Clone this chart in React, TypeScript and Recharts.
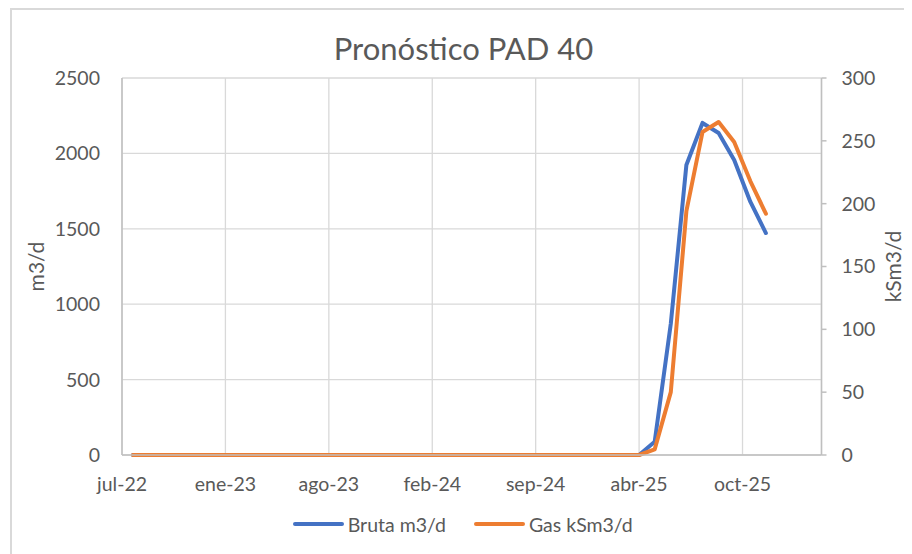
import React from 'react';
import { LineChart, Line, XAxis, YAxis, CartesianGrid, Legend } from 'recharts';

// monthly forecast, first day of each month
const months = [
  '2022-08', '2022-09', '2022-10', '2022-11', '2022-12',
  '2023-01', '2023-02', '2023-03', '2023-04', '2023-05', '2023-06',
  '2023-07', '2023-08', '2023-09', '2023-10', '2023-11', '2023-12',
  '2024-01', '2024-02', '2024-03', '2024-04', '2024-05', '2024-06',
  '2024-07', '2024-08', '2024-09', '2024-10', '2024-11', '2024-12',
  '2025-01', '2025-02', '2025-03', '2025-04', '2025-05', '2025-06',
  '2025-07', '2025-08', '2025-09', '2025-10', '2025-11', '2025-12',
];

const bruta = [
  0, 0, 0, 0, 0,
  0, 0, 0, 0, 0, 0,
  0, 0, 0, 0, 0, 0,
  0, 0, 0, 0, 0, 0,
  0, 0, 0, 0, 0, 0,
  0, 0, 0, 0, 88, 870,
  1923, 2202, 2135, 1956, 1680, 1472,
];

const gas = [
  0, 0, 0, 0, 0,
  0, 0, 0, 0, 0, 0,
  0, 0, 0, 0, 0, 0,
  0, 0, 0, 0, 0, 0,
  0, 0, 0, 0, 0, 0,
  0, 0, 0, 0, 4.5, 50,
  194, 257, 265, 249, 218, 192,
];

// date axis: ticks every 199 days
const xTickDates = ['2022-07-11', '2023-01-26', '2023-08-13', '2024-02-28', '2024-09-14', '2025-04-01', '2025-10-17'];
const xTickLabels = ['jul-22', 'ene-23', 'ago-23', 'feb-24', 'sep-24', 'abr-25', 'oct-25'];
const xRange = ['2022-07-11', '2026-03-18'];
const leftTicks = [0, 500, 1000, 1500, 2000, 2500];
const rightTicks = [0, 50, 100, 150, 200, 250, 300];

const toTime = (s: string) => Date.parse(s.length === 7 ? s + '-01' : s);

const data = months.map((m, i) => ({
  t: toTime(m),
  bruta: bruta[i],
  gas: gas[i],
}));

const xTicks = xTickDates.map(toTime);

const FONT = 'Lato, "Open Sans", sans-serif';
const TEXT = '#595959';
const AXIS = '#bfbfbf';
const GRID = '#d9d9d9';

const axisTitle = (text: string, x: number) => (props: any) => {
  const vb = props.viewBox;
  const cy = vb.y + vb.height / 2;
  return (
    <text
      x={x}
      y={cy}
      transform={`rotate(-90 ${x} ${cy})`}
      textAnchor="middle"
      dominantBaseline="central"
      fill={TEXT}
      fontSize={21}
      fontFamily={FONT}
    >
      {text}
    </text>
  );
};

const LegendContent = (props: any) => {
  const { payload = [] } = props;
  return (
    <div style={{ display: 'flex', alignItems: 'center', height: 24, fontFamily: FONT, fontSize: 19.5, color: TEXT }}>
      {payload.map((item: any, i: number) => (
        <div key={item.value} style={{ display: 'flex', alignItems: 'center', marginLeft: i === 0 ? 0 : 28 }}>
          <span style={{ display: 'inline-block', width: 51, height: 4, borderRadius: 2, background: item.color, marginRight: 4 }} />
          <span>{item.value}</span>
        </div>
      ))}
    </div>
  );
};

export default function App() {
  return (
    <div style={{ position: 'relative', width: 904, height: 546, overflow: 'hidden', background: '#fff' }}>
      <div
        style={{
          position: 'absolute', left: 2, top: 0, width: 1000, height: 1000,
          borderLeft: `2px solid ${GRID}`, borderTop: `2px solid ${GRID}`,
        }}
      />
      <div
        style={{
          position: 'absolute', left: 0, top: 22, width: 911, textAlign: 'center',
          fontFamily: FONT, fontSize: 31, lineHeight: '37px', color: TEXT,
        }}
      >
        Pronóstico PAD 40
      </div>
      <LineChart width={904} height={546} data={data} margin={{ top: 70, right: 0, left: 0, bottom: 18 }}>
        <CartesianGrid yAxisId="left" stroke={GRID} strokeWidth={1.3} />
        <XAxis
          dataKey="t"
          type="number"
          domain={xRange.map(toTime)}
          ticks={xTicks}
          tickFormatter={(v: number) => xTickLabels[xTicks.indexOf(v)] ?? ''}
          height={57}
          tickLine={false}
          tickSize={0}
          tickMargin={22}
          axisLine={{ stroke: AXIS, strokeWidth: 1.5 }}
          tick={{ fill: TEXT, fontSize: 19.5, fontFamily: FONT }}
        />
        <YAxis
          yAxisId="left"
          domain={[0, 2500]}
          ticks={leftTicks}
          width={114}
          tickLine={false}
          tickSize={0}
          tickMargin={22}
          axisLine={{ stroke: AXIS, strokeWidth: 1.5 }}
          tick={{ fill: TEXT, fontSize: 19.5, fontFamily: FONT }}
          label={{ value: 'm3/d', content: axisTitle('m3/d', 27) }}
        />
        <YAxis
          yAxisId="right"
          orientation="right"
          domain={[0, 300]}
          ticks={rightTicks}
          width={90.5}
          tickSize={5}
          tickMargin={15}
          tickLine={{ stroke: AXIS, strokeWidth: 1.5 }}
          axisLine={{ stroke: AXIS, strokeWidth: 1.5 }}
          tick={{ fill: TEXT, fontSize: 19.5, fontFamily: FONT }}
          label={{ value: 'kSm3/d', content: axisTitle('kSm3/d', 884) }}
        />
        <Legend content={<LegendContent />} wrapperStyle={{ left: 284.7, bottom: 18, width: 'auto' }} />
        <Line
          yAxisId="left"
          type="linear"
          dataKey="bruta"
          name="Bruta m3/d"
          stroke="#4472C4"
          strokeWidth={4}
          strokeLinecap="round"
          strokeLinejoin="round"
          dot={false}
          isAnimationActive={false}
        />
        <Line
          yAxisId="right"
          type="linear"
          dataKey="gas"
          name="Gas kSm3/d"
          stroke="#ED7D31"
          strokeWidth={4}
          strokeLinecap="round"
          strokeLinejoin="round"
          dot={false}
          isAnimationActive={false}
        />
      </LineChart>
    </div>
  );
}
